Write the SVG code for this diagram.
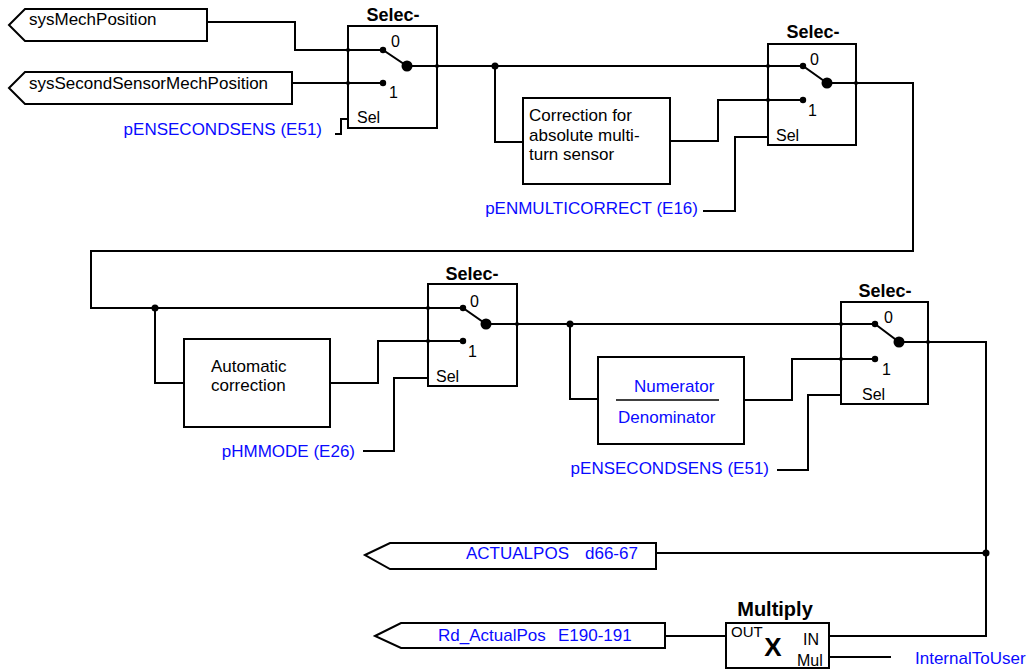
<svg xmlns="http://www.w3.org/2000/svg" width="1031" height="670" viewBox="0 0 1031 670">
  <style>
    .bg { fill: #ffffff; }
    .box { fill: #ffffff; stroke: #000; stroke-width: 2; }
    .wire { fill: none; stroke: #000; stroke-width: 2; stroke-linejoin: miter; }
    .t { font-family: "Liberation Sans", Arial, sans-serif; font-size: 17px; fill: #000; }
    .blue { fill: #0a0aff; }
    .title { font-family: "Liberation Sans", Arial, sans-serif; font-size: 18px; font-weight: bold; fill: #000; text-anchor: middle; }
    .pin { font-family: "Liberation Sans", Arial, sans-serif; font-size: 16px; fill: #000; }
    .dot { fill: #000; }
  </style>
  <defs>
    <!-- small connection point where a wire meets a block edge -->
    <circle id="edge" r="2" class="dot"/>
  </defs>
  <rect class="bg" x="0" y="0" width="1031" height="670"/>

  <!-- wires -->
  <g id="connectors">
    <polyline class="wire" points="207,22 295,22 295,50 383,50"/>
    <polyline class="wire" points="292,83 383,83"/>
    <polyline class="wire" points="335,134 341,134 341,119 348,119"/>
    <polyline class="wire" points="407,66 803,66"/>
    <polyline class="wire" points="495,66 495,142 523,142"/>
    <polyline class="wire" points="670,141 718,141 718,100 803,100"/>
    <polyline class="wire" points="703,211 735,211 735,137 768,137"/>
    <polyline class="wire" points="827,83 913,83 913,251 91,251 91,308 463,308"/>
    <polyline class="wire" points="155,308 155,383 184,383"/>
    <polyline class="wire" points="330,383 378,383 378,341 463,341"/>
    <polyline class="wire" points="363,451 394,451 394,378 428,378"/>
    <polyline class="wire" points="486,324 875,324"/>
    <polyline class="wire" points="570,324 570,399 598,399"/>
    <polyline class="wire" points="744,400 792,400 792,359 875,359"/>
    <polyline class="wire" points="777,470 808,470 808,395 841,395"/>
    <polyline class="wire" points="899,342 986,342 986,636 829,636"/>
    <polyline class="wire" points="986,553 656,553"/>
    <polyline class="wire" points="726,636 665,636"/>
    <polyline class="wire" points="829,657 891,657"/>
    <!-- junctions -->
    <circle class="dot" cx="495" cy="66" r="3.5"/>
    <circle class="dot" cx="155" cy="308" r="3.5"/>
    <circle class="dot" cx="570" cy="324" r="3.5"/>
    <circle class="dot" cx="986" cy="553" r="3.5"/>
  </g>

  <!-- input tags -->
  <g id="tag-sysMechPosition">
    <polygon class="box" points="9,25 25,9 207,9 207,41 25,41"/>
    <text class="t" x="29" y="25">sysMechPosition</text>
  </g>
  <g id="tag-sysSecondSensorMechPosition">
    <polygon class="box" points="9,88 25,72 292,72 292,104 25,104"/>
    <text class="t" x="29" y="89">sysSecondSensorMechPosition</text>
  </g>

  <!-- selector 1 -->
  <g id="selector1">
    <text class="title" x="393" y="21">Selec-</text>
    <rect class="box" x="348" y="26" width="89" height="102"/>
    <polyline class="wire" points="348,50 383,50 407,66 437,66"/>
    <polyline class="wire" points="348,83 383,83"/>
    <circle class="dot" cx="383" cy="50" r="3.2"/>
    <circle class="dot" cx="383" cy="83" r="3.2"/>
    <circle class="dot" cx="407" cy="66" r="5.5"/>
    <use href="#edge" x="348" y="50"/>
    <use href="#edge" x="348" y="83"/>
    <use href="#edge" x="437" y="66"/>
    <text class="pin" x="391" y="47">0</text>
    <text class="pin" x="389" y="98">1</text>
    <text class="pin" x="357" y="123">Sel</text>
  </g>
  <g id="param-pENSECONDSENS-1">
    <text class="t blue" x="322" y="135" text-anchor="end">pENSECONDSENS (E51)</text>
  </g>

  <!-- multiturn correction -->
  <g id="correction-multiturn">
    <rect class="box" x="523" y="98" width="147" height="86"/>
    <text class="t" x="529" y="121">Correction for</text>
    <text class="t" x="529" y="141">absolute multi-</text>
    <text class="t" x="529" y="160">turn sensor</text>
  </g>

  <!-- selector 2 -->
  <g id="selector2">
    <text class="title" x="813" y="38">Selec-</text>
    <rect class="box" x="768" y="44" width="88" height="101"/>
    <polyline class="wire" points="768,66 803,66 827,83 856,83"/>
    <polyline class="wire" points="768,100 803,100"/>
    <circle class="dot" cx="803" cy="66" r="3.2"/>
    <circle class="dot" cx="803" cy="100" r="3.2"/>
    <circle class="dot" cx="827" cy="83" r="5.5"/>
    <use href="#edge" x="768" y="66"/>
    <use href="#edge" x="768" y="100"/>
    <use href="#edge" x="856" y="83"/>
    <text class="pin" x="810" y="65">0</text>
    <text class="pin" x="808" y="116">1</text>
    <text class="pin" x="776" y="141">Sel</text>
  </g>
  <g id="param-pENMULTICORRECT">
    <text class="t blue" x="698" y="214" text-anchor="end">pENMULTICORRECT (E16)</text>
  </g>

  <!-- automatic correction -->
  <g id="correction-automatic">
    <rect class="box" x="184" y="339" width="146" height="88"/>
    <text class="t" x="211" y="372">Automatic</text>
    <text class="t" x="211" y="391">correction</text>
  </g>

  <!-- selector 3 -->
  <g id="selector3">
    <text class="title" x="472" y="280">Selec-</text>
    <rect class="box" x="428" y="284" width="89" height="102"/>
    <polyline class="wire" points="428,308 463,308 486,324 517,324"/>
    <polyline class="wire" points="428,341 463,341"/>
    <circle class="dot" cx="463" cy="308" r="3.2"/>
    <circle class="dot" cx="463" cy="341" r="3.2"/>
    <circle class="dot" cx="486" cy="324" r="5.5"/>
    <use href="#edge" x="428" y="308"/>
    <use href="#edge" x="428" y="341"/>
    <use href="#edge" x="517" y="324"/>
    <text class="pin" x="470" y="307">0</text>
    <text class="pin" x="468" y="357">1</text>
    <text class="pin" x="436" y="382">Sel</text>
  </g>
  <g id="param-pHMMODE">
    <text class="t blue" x="355" y="457" text-anchor="end">pHMMODE (E26)</text>
  </g>

  <!-- numerator / denominator scaling -->
  <g id="scaling">
    <rect class="box" x="598" y="357" width="146" height="87"/>
    <text class="t blue" x="634" y="392">Numerator</text>
    <line x1="616" y1="400" x2="719" y2="400" stroke="#000" stroke-width="1.6"/>
    <text class="t blue" x="618" y="423">Denominator</text>
  </g>

  <!-- selector 4 -->
  <g id="selector4">
    <text class="title" x="885" y="297">Selec-</text>
    <rect class="box" x="841" y="302" width="87" height="102"/>
    <polyline class="wire" points="841,324 875,324 899,342 928,342"/>
    <polyline class="wire" points="841,359 875,359"/>
    <circle class="dot" cx="875" cy="324" r="3.2"/>
    <circle class="dot" cx="875" cy="359" r="3.2"/>
    <circle class="dot" cx="899" cy="342" r="5.5"/>
    <use href="#edge" x="841" y="324"/>
    <use href="#edge" x="841" y="359"/>
    <use href="#edge" x="928" y="342"/>
    <text class="pin" x="884" y="323">0</text>
    <text class="pin" x="882" y="375">1</text>
    <text class="pin" x="862" y="400">Sel</text>
  </g>
  <g id="param-pENSECONDSENS-2">
    <text class="t blue" x="769" y="474" text-anchor="end">pENSECONDSENS (E51)</text>
  </g>

  <!-- output tags -->
  <g id="tag-ACTUALPOS">
    <polygon class="box" points="365,555 390,543 656,543 656,569 390,569"/>
    <text class="t blue" x="466" y="559">ACTUALPOS</text>
    <text class="t blue" x="585" y="559">d66-67</text>
  </g>
  <g id="tag-Rd_ActualPos">
    <polygon class="box" points="375,636 401,623 665,623 665,648 401,648"/>
    <text class="t blue" x="438" y="641">Rd_ActualPos</text>
    <text class="t blue" x="558" y="641">E190-191</text>
  </g>

  <!-- multiply block -->
  <g id="multiply">
    <text class="title" x="775" y="616" style="font-size:20px">Multiply</text>
    <rect class="box" x="726" y="623" width="103" height="45"/>
    <text class="pin" x="731" y="637" style="font-size:15px">OUT</text>
    <text x="773" y="656" text-anchor="middle" style="font-family:'Liberation Sans',Arial,sans-serif;font-size:26px;font-weight:bold">X</text>
    <text class="pin" x="803" y="645">IN</text>
    <text class="pin" x="797" y="666">Mul</text>
  </g>
  <g id="param-InternalToUser">
    <text class="t blue" x="915" y="664">InternalToUser</text>
  </g>
</svg>
